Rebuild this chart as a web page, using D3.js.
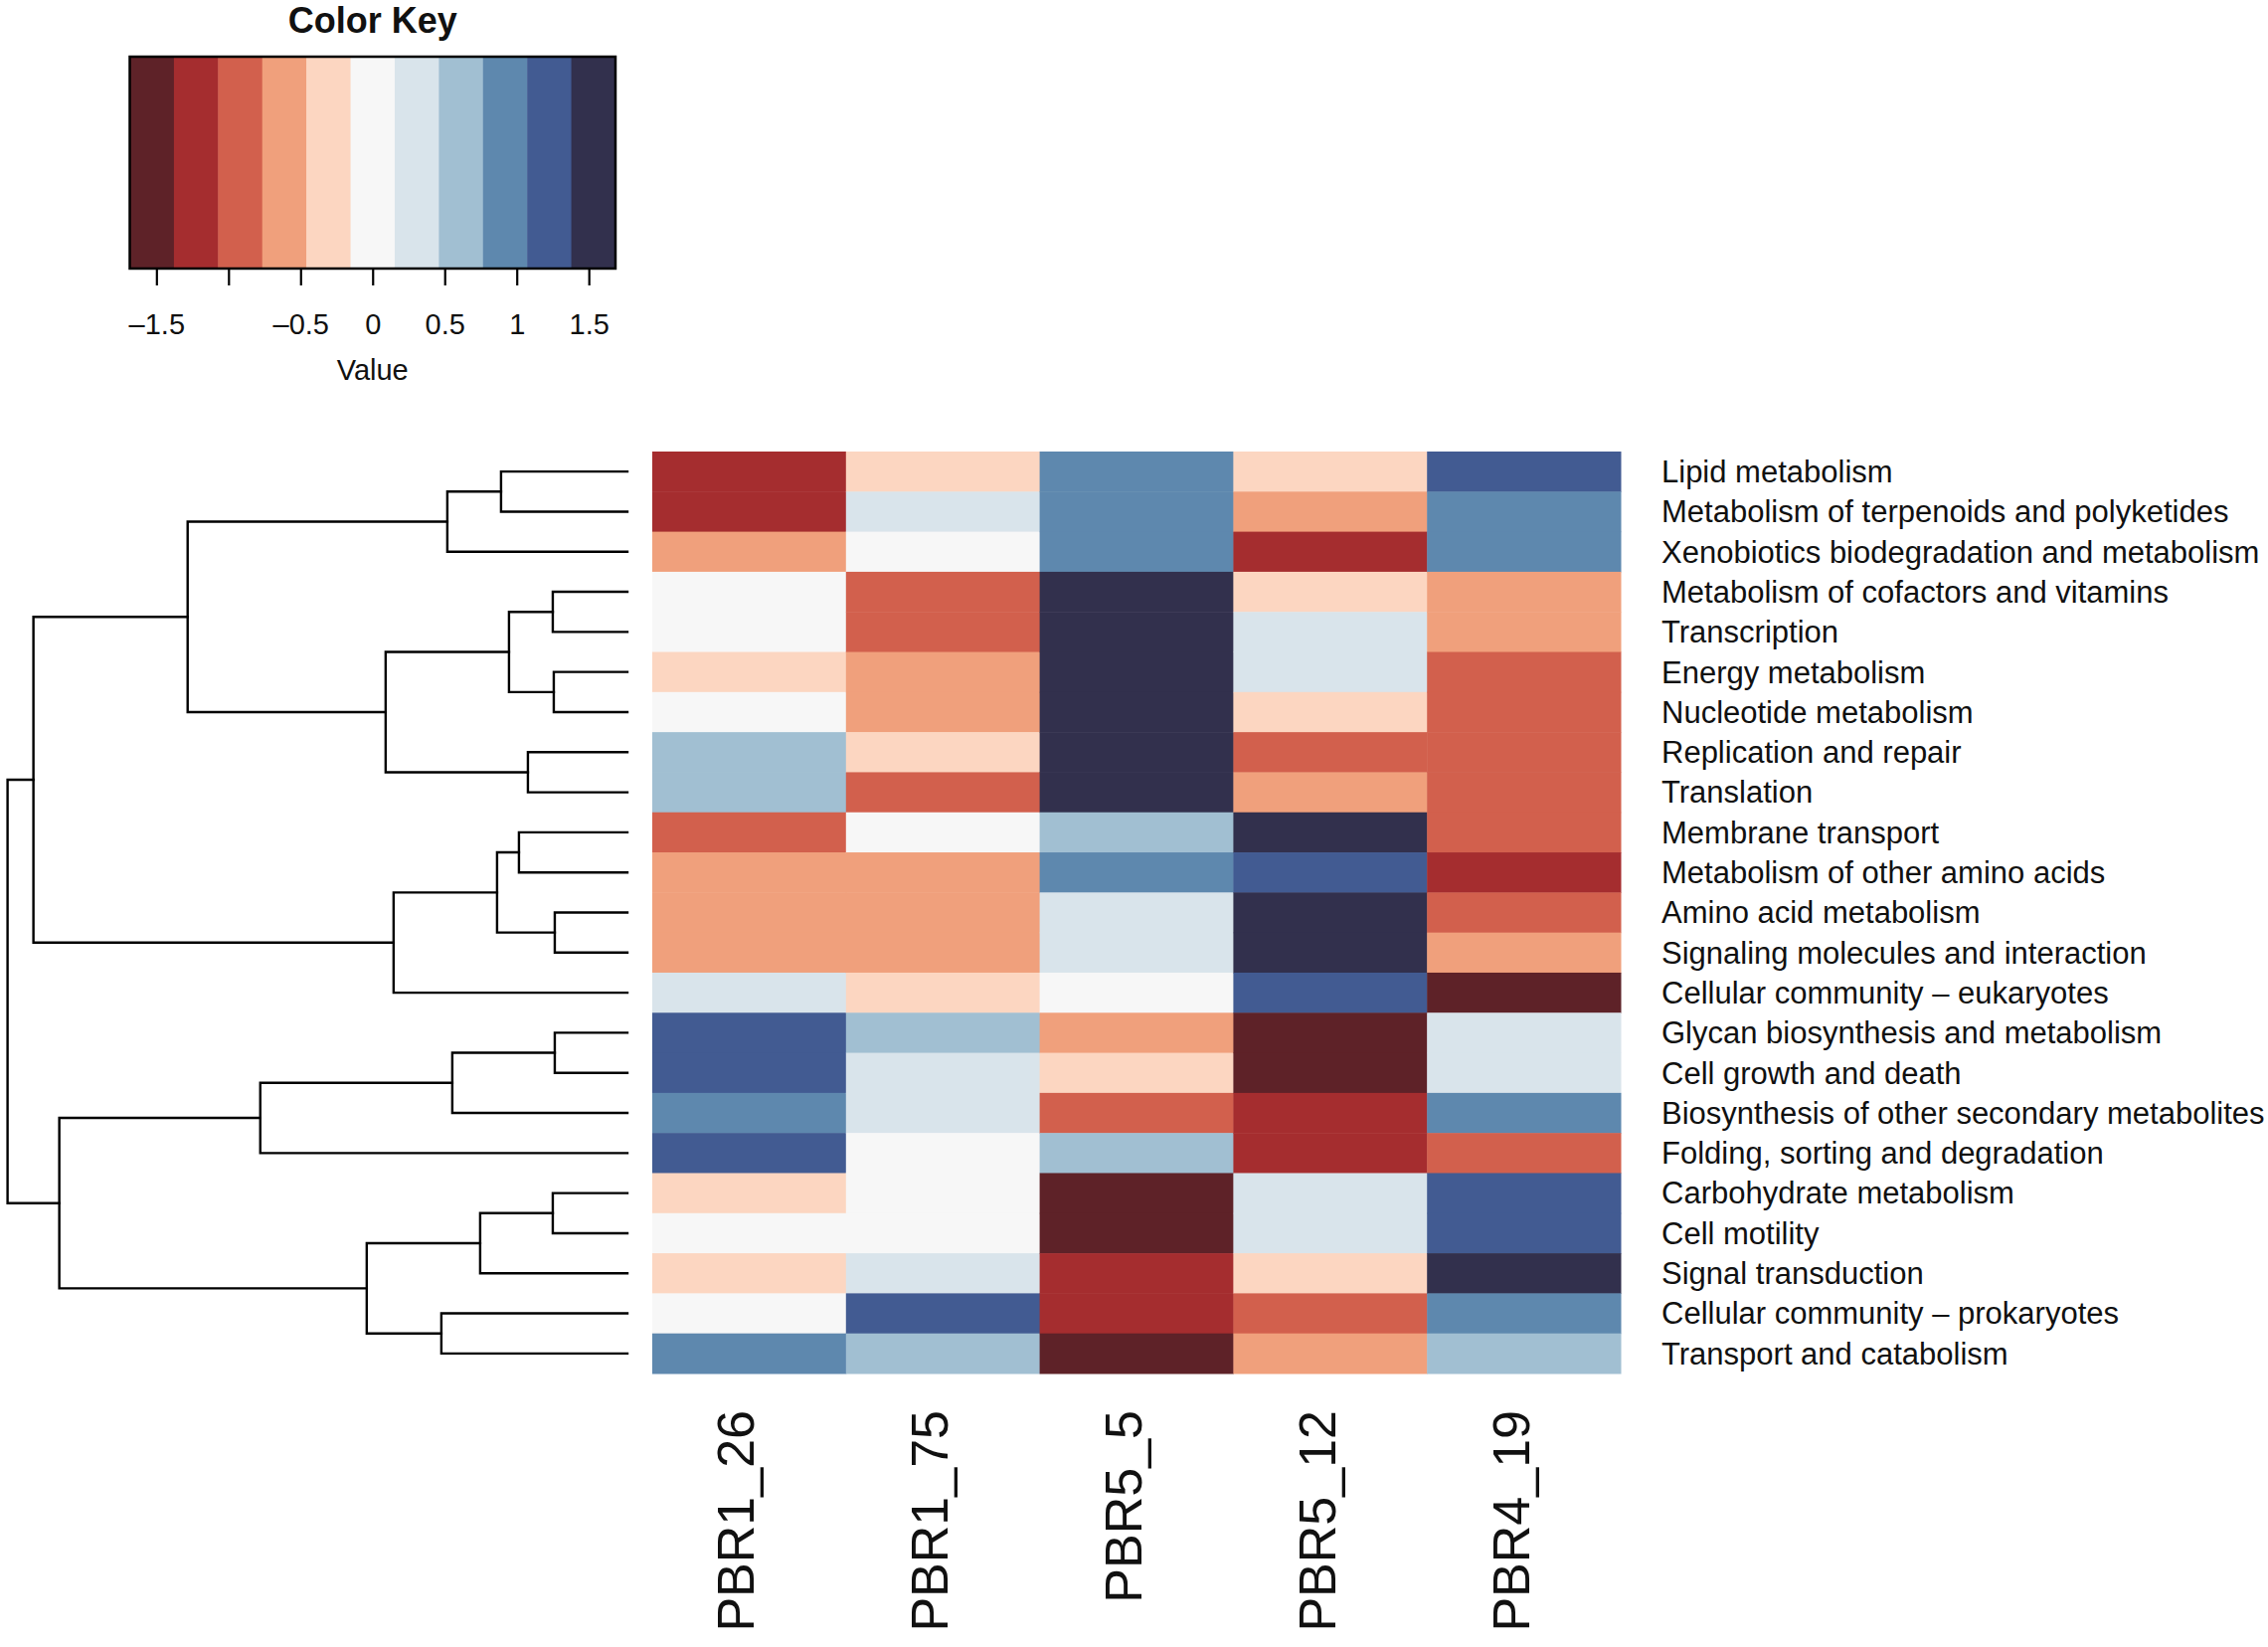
<!DOCTYPE html>
<html>
<head>
<meta charset="utf-8">
<script src="https://cdn.jsdelivr.net/npm/d3@7/dist/d3.min.js"></script>
<style>
  body { margin: 0; background: #fff; }
  text { font-family: "Liberation Sans", Arial, Helvetica, sans-serif; fill: #111; }
</style>
</head>
<body>
<div id="chart"></div>
<script>
// samples (columns) and KEGG pathways (rows), in plotted order
var samples = ['PBR1_26', 'PBR1_75', 'PBR5_5', 'PBR5_12', 'PBR4_19'];

var pathways = [
  'Lipid metabolism',
  'Metabolism of terpenoids and polyketides',
  'Xenobiotics biodegradation and metabolism',
  'Metabolism of cofactors and vitamins',
  'Transcription',
  'Energy metabolism',
  'Nucleotide metabolism',
  'Replication and repair',
  'Translation',
  'Membrane transport',
  'Metabolism of other amino acids',
  'Amino acid metabolism',
  'Signaling molecules and interaction',
  'Cellular community \u2013 eukaryotes',
  'Glycan biosynthesis and metabolism',
  'Cell growth and death',
  'Biosynthesis of other secondary metabolites',
  'Folding, sorting and degradation',
  'Carbohydrate metabolism',
  'Cell motility',
  'Signal transduction',
  'Cellular community \u2013 prokaryotes',
  'Transport and catabolism'
];

// scaled values, one array per sample (same order as pathways)
var valuesPBR1_26 = [-1.2, -1.2, -0.6, 0, 0, -0.3, 0, 0.6, 0.6, -0.9, -0.6, -0.6, -0.6, 0.3, 1.2, 1.2, 0.9, 1.2, -0.3, 0, -0.3, 0, 0.9];
var valuesPBR1_75 = [-0.3, 0.3, 0, -0.9, -0.9, -0.6, -0.6, -0.3, -0.9, 0, -0.6, -0.6, -0.6, -0.3, 0.6, 0.3, 0.3, 0, 0, 0, 0.3, 1.2, 0.6];
var valuesPBR5_5 = [0.9, 0.9, 0.9, 1.5, 1.5, 1.5, 1.5, 1.5, 1.5, 0.6, 0.9, 0.3, 0.3, 0, -0.6, -0.3, -0.9, 0.6, -1.5, -1.5, -1.2, -1.2, -1.5];
var valuesPBR5_12 = [-0.3, -0.6, -1.2, -0.3, 0.3, 0.3, -0.3, -0.9, -0.6, 1.5, 1.2, 1.5, 1.5, 1.2, -1.5, -1.5, -1.2, -1.2, 0.3, 0.3, -0.3, -0.9, -0.6];
var valuesPBR4_19 = [1.2, 0.9, 0.9, -0.6, -0.6, -0.9, -0.9, -0.9, -0.9, -0.9, -1.2, -0.9, -0.6, -1.5, 0.3, 0.3, 0.9, -0.9, 1.2, 1.2, 1.5, 0.9, 0.6];
var sampleValues = [valuesPBR1_26, valuesPBR1_75, valuesPBR5_5, valuesPBR5_12, valuesPBR4_19];

// row dendrogram, hclust style: negative = leaf (1-based row), positive = earlier merge
var rowMerges = [
  [-1, -2], [1, -3], [-4, -5], [-6, -7], [3, 4], [-8, -9], [5, 6], [2, 7],
  [-10, -11], [-12, -13], [9, 10], [11, -14], [8, 12],
  [-15, -16], [14, -17], [15, -18], [-19, -20], [17, -21], [-22, -23],
  [18, 19], [16, 20], [13, 21]
];
var rowHeights = [
  1.27, 1.81, 0.75, 0.74, 1.19, 1.00, 2.43, 4.42,
  1.09, 0.73, 1.31, 2.35, 5.97,
  0.73, 1.76, 3.69, 0.75, 1.48, 1.87,
  2.62, 5.71, 6.23
];

// colour key
var keyColors = ['#5e2228', '#a52d2f', '#d2604d', '#f0a07c', '#fcd6c1', '#f7f7f7',
                 '#d9e4eb', '#a1bfd2', '#5e88ae', '#425b92', '#32304d'];
var keyRange = [-1.685, 1.685];
var keyTicks = [-1.5, -1, -0.5, 0, 0.5, 1, 1.5];
var keyTickLabels = ['\u20131.5', '', '\u20130.5', '0', '0.5', '1', '1.5'];

var width = 2281, height = 1656;
var heat = { left: 656, right: 1630, top: 454, bottom: 1381 };
var key = { left: 130.5, right: 619, top: 57, bottom: 270 };

var svg = d3.select('#chart').append('svg')
  .attr('width', width)
  .attr('height', height)
  .style('background', '#fff');

var color = d3.scaleQuantize().domain(keyRange).range(keyColors);

var x = d3.scaleBand().domain(samples).range([heat.left, heat.right]);
var y = d3.scaleBand().domain(pathways).range([heat.top, heat.bottom]);

//heatmap cells
var cells = [];
samples.forEach(function (s, j) {
  pathways.forEach(function (p, i) {
    cells.push({ sample: s, pathway: p, value: sampleValues[j][i] });
  });
});

svg.append('g')
  .selectAll('rect')
  .data(cells)
  .enter().append('rect')
  .attr('x', function (d) { return x(d.sample); })
  .attr('y', function (d) { return y(d.pathway); })
  .attr('width', x.bandwidth() + 0.5)
  .attr('height', y.bandwidth() + 0.5)
  .attr('fill', function (d) { return color(d.value); });

//row labels
svg.append('g')
  .selectAll('text')
  .data(pathways)
  .enter().append('text')
  .attr('x', 1671)
  .attr('y', function (d) { return y(d) + y.bandwidth() / 2; })
  .attr('dy', '0.35em')
  .style('font-size', '31px')
  .text(function (d) { return d; });

//column labels, rotated
svg.append('g')
  .selectAll('text')
  .data(samples)
  .enter().append('text')
  .attr('transform', function (d) {
    return 'translate(' + (x(d) + x.bandwidth() / 2 + 5) + ',1418) rotate(-90)';
  })
  .style('text-anchor', 'end')
  .style('font-size', '52px')
  .text(function (d) { return d; });

//row dendrogram
var hx = d3.scaleLinear().domain([0, d3.max(rowHeights)]).range([631, 7.6]);
var nodes = [];
function nodePos(id) {
  if (id < 0) {
    return { x: hx(0), y: y(pathways[-id - 1]) + y.bandwidth() / 2 };
  }
  return nodes[id - 1];
}
var segments = [];
rowMerges.forEach(function (m, k) {
  var a = nodePos(m[0]), b = nodePos(m[1]);
  var nx = hx(rowHeights[k]);
  segments.push([[a.x, a.y], [nx, a.y], [nx, b.y], [b.x, b.y]]);
  nodes.push({ x: nx, y: (a.y + b.y) / 2 });
});

svg.append('g')
  .selectAll('path')
  .data(segments)
  .enter().append('path')
  .attr('d', d3.line())
  .attr('fill', 'none')
  .attr('stroke', '#000')
  .attr('stroke-width', 2.4)
  .attr('stroke-linecap', 'square');

//colour key
var k = d3.scaleLinear().domain(keyRange).range([key.left, key.right]);
var step = (keyRange[1] - keyRange[0]) / keyColors.length;

svg.append('text')
  .attr('x', (key.left + key.right) / 2)
  .attr('y', 33)
  .style('text-anchor', 'middle')
  .style('font-size', '36px')
  .style('font-weight', 'bold')
  .text('Color Key');

svg.append('g')
  .selectAll('rect')
  .data(keyColors)
  .enter().append('rect')
  .attr('x', function (d, i) { return k(keyRange[0] + i * step); })
  .attr('y', key.top)
  .attr('width', k(keyRange[0] + step) - k(keyRange[0]) + 0.5)
  .attr('height', key.bottom - key.top)
  .attr('fill', function (d) { return d; });

svg.append('rect')
  .attr('x', key.left)
  .attr('y', key.top)
  .attr('width', key.right - key.left)
  .attr('height', key.bottom - key.top)
  .attr('fill', 'none')
  .attr('stroke', '#000')
  .attr('stroke-width', 2.5);

var keyAxis = svg.append('g')
  .attr('transform', 'translate(0,' + key.bottom + ')')
  .call(d3.axisBottom(k)
    .tickValues(keyTicks)
    .tickFormat(function (d, i) { return keyTickLabels[i]; })
    .tickSize(17)
    .tickPadding(28));
keyAxis.select('.domain').remove();
keyAxis.selectAll('line').attr('stroke', '#000').attr('stroke-width', 2.2);
keyAxis.selectAll('text')
  .style('font-size', '29px')
  .style('font-family', '"Liberation Sans", Arial, sans-serif')
  .attr('fill', '#111');

svg.append('text')
  .attr('x', k(0))
  .attr('y', 382)
  .style('text-anchor', 'middle')
  .style('font-size', '29px')
  .text('Value');
</script>
</body>
</html>
